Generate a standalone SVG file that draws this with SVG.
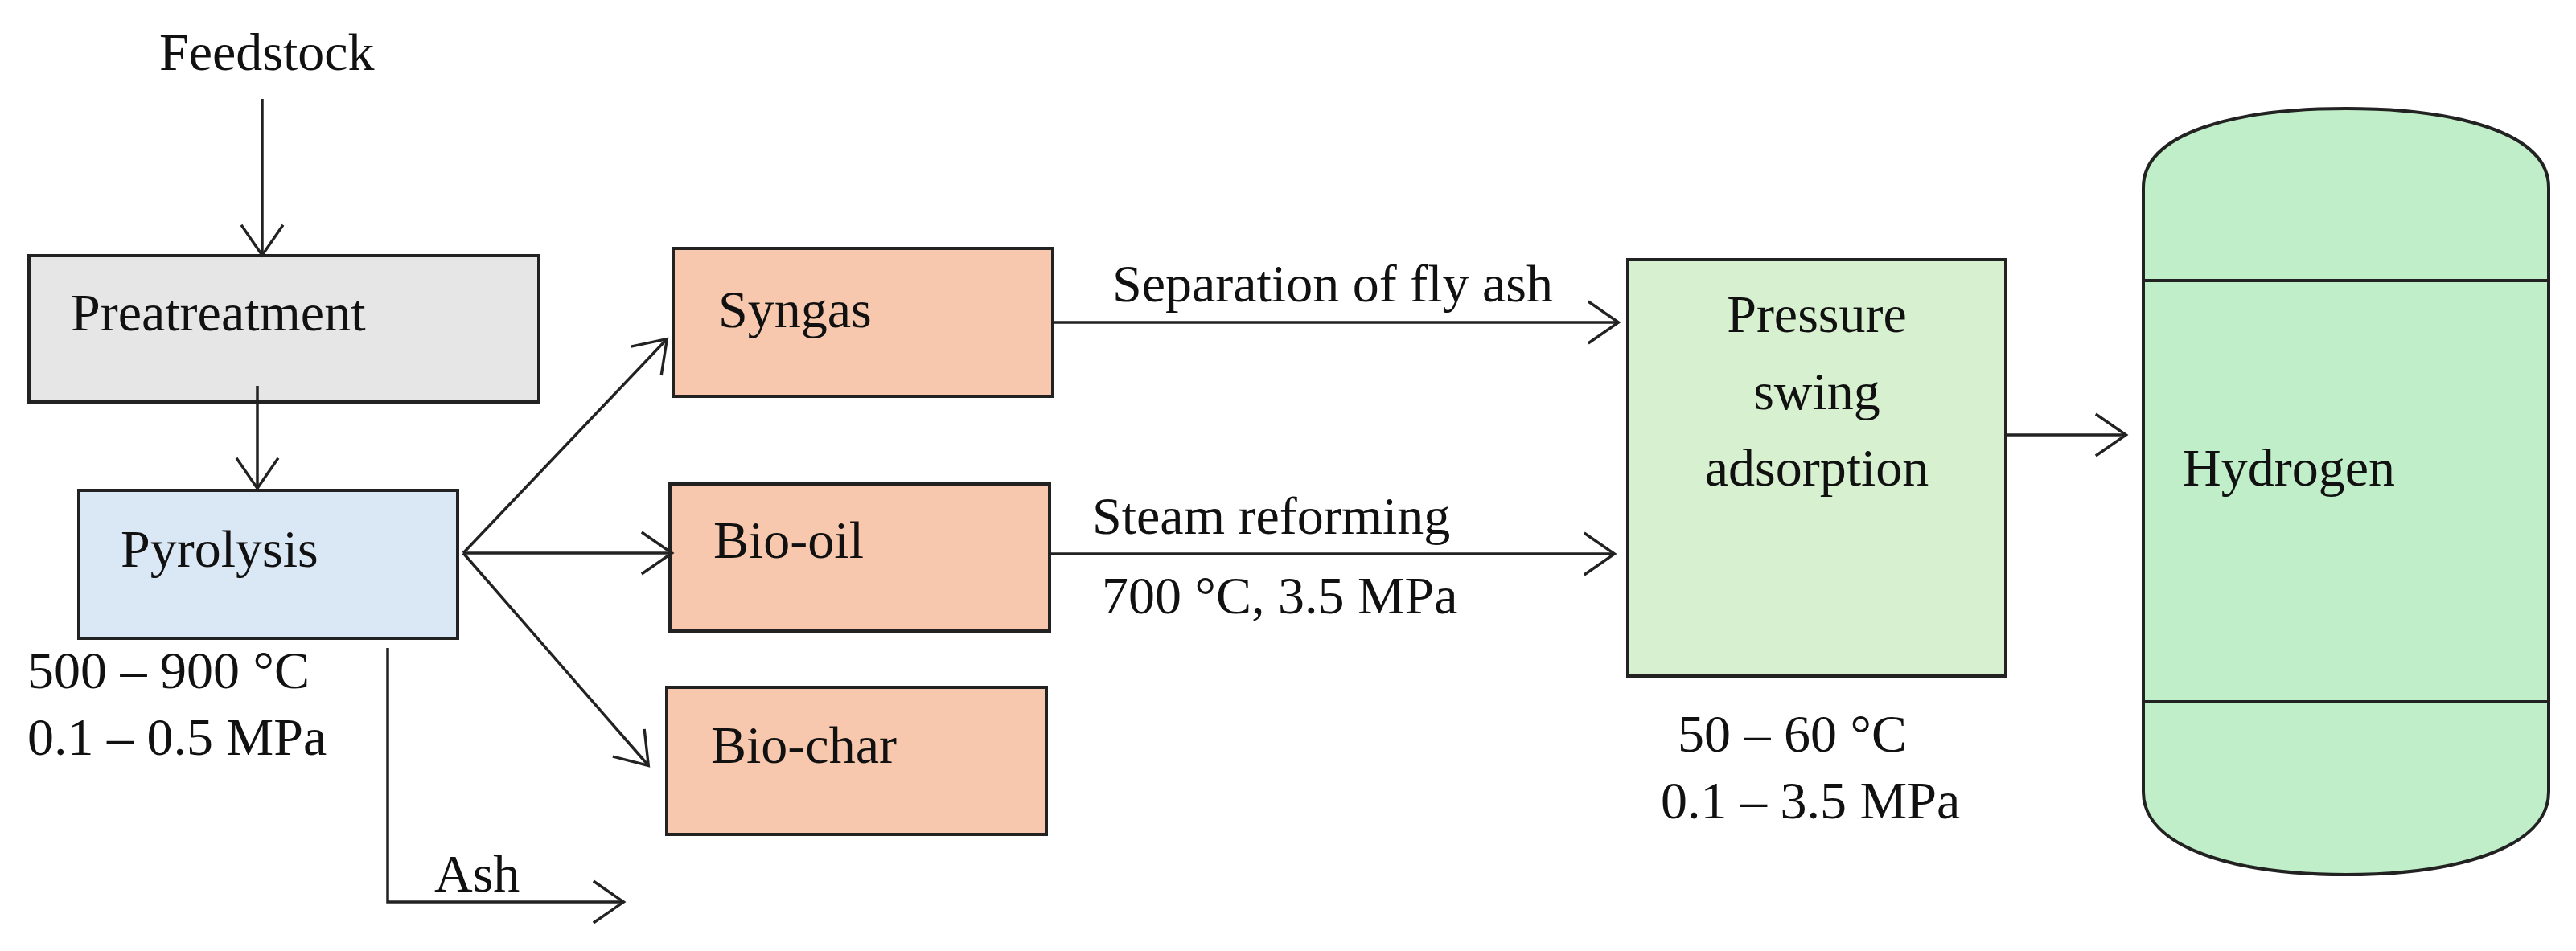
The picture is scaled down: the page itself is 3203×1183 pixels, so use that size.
<svg xmlns="http://www.w3.org/2000/svg" width="3203" height="1183" viewBox="0 0 3203 1183">
<style>
text{font-family:"Liberation Serif","Times New Roman",serif;font-size:66px;fill:#111}
.b{stroke:#222;stroke-width:4}
.c line,.c polyline{stroke:#222;stroke-width:3.5;fill:none}
</style>
<defs>
<marker id="a" viewBox="0 0 20 20" refX="19" refY="10" markerWidth="20" markerHeight="20" markerUnits="userSpaceOnUse" orient="auto" overflow="visible">
<polyline points="-10,-10 19,10 -10,30" transform="scale(1.3) translate(-4,-2.3)" fill="none" stroke="#222" stroke-width="2.6"/>
</marker>
</defs>
<rect width="3203" height="1183" fill="#fff"/>
<text x="198" y="87">Feedstock</text>
<g id="preatreatment"><rect class="b" x="36" y="318" width="634" height="182" fill="#e6e6e6"/><text x="88" y="411">Preatreatment</text></g>
<g id="pyrolysis"><rect class="b" x="98" y="610" width="471" height="184" fill="#dae8f5"/><text x="150" y="705">Pyrolysis</text></g>
<text x="34" y="856">500 – 900 °C</text>
<text x="34" y="939">0.1 – 0.5 MPa</text>
<g id="syngas"><rect class="b" x="837" y="309" width="472" height="184" fill="#f7c8ad"/><text x="893" y="407">Syngas</text></g>
<g id="biooil"><rect class="b" x="833" y="602" width="472" height="183" fill="#f7c8ad"/><text x="887" y="694">Bio-oil</text></g>
<g id="biochar"><rect class="b" x="829" y="855" width="472" height="183" fill="#f7c8ad"/><text x="884" y="949">Bio-char</text></g>
<g id="psa"><rect class="b" x="2024" y="323" width="470" height="518" fill="#d7f0cf"/>
<text x="2259" y="413" text-anchor="middle">Pressure</text><text x="2259" y="509" text-anchor="middle">swing</text><text x="2259" y="604" text-anchor="middle">adsorption</text></g>
<text x="2086" y="935">50 – 60 °C</text>
<text x="2065" y="1018">0.1 – 3.5 MPa</text>
<g id="hydrogen"><path class="b" d="M2665,233 C2665,165 2780,135 2917,135 C3054,135 3169,165 3169,233 L3169,985 C3169,1055 3054,1088 2917,1088 C2780,1088 2665,1055 2665,985 Z" fill="#c0eec8"/>
<line class="b" x1="2665" y1="349" x2="3169" y2="349"/><line class="b" x1="2665" y1="873" x2="3169" y2="873"/>
<text x="2714" y="604">Hydrogen</text></g>
<text x="1383" y="375">Separation of fly ash</text>
<text x="1358" y="664">Steam reforming</text>
<text x="1370" y="763">700 °C, 3.5 MPa</text>
<text x="540" y="1109">Ash</text>
<g class="c" id="connectors">
<line x1="326" y1="123" x2="326" y2="317" marker-end="url(#a)"/>
<line x1="320" y1="480" x2="320" y2="607" marker-end="url(#a)"/>
<line x1="576" y1="688" x2="829" y2="422" marker-end="url(#a)"/>
<line x1="576" y1="688" x2="835" y2="688" marker-end="url(#a)"/>
<line x1="576" y1="688" x2="806" y2="952" marker-end="url(#a)"/>
<polyline points="482,806 482,1122 775,1122" marker-end="url(#a)"/>
<line x1="1309" y1="401" x2="2012" y2="401" marker-end="url(#a)"/>
<line x1="1305" y1="689" x2="2007" y2="689" marker-end="url(#a)"/>
<line x1="2494" y1="541" x2="2643" y2="541" marker-end="url(#a)"/>
</g>
</svg>
